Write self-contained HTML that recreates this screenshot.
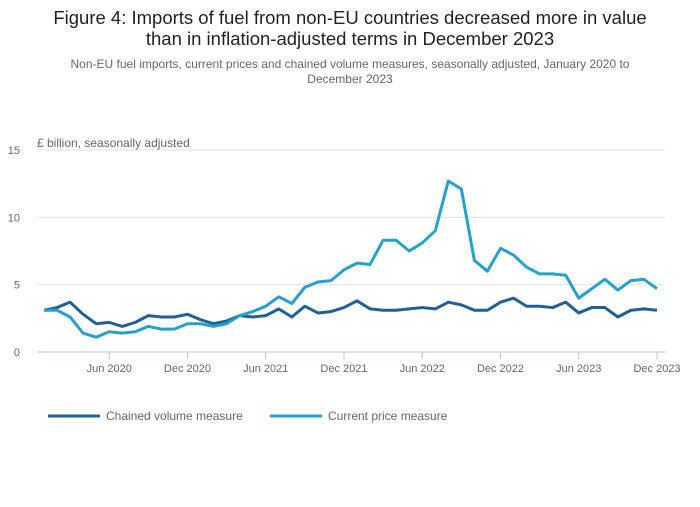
<!DOCTYPE html>
<html><head><meta charset="utf-8"><style>
body{margin:0;background:#fff;font-family:"Liberation Sans",sans-serif;}
svg text{font-family:"Liberation Sans",sans-serif;}
</style></head><body>
<svg width="700" height="502">
<text x="350" y="24" text-anchor="middle" font-size="18.5" fill="#222">Figure 4: Imports of fuel from non-EU countries decreased more in value</text>
<text x="350" y="45" text-anchor="middle" font-size="18.5" fill="#222">than in inflation-adjusted terms in December 2023</text>
<text x="350" y="68" text-anchor="middle" font-size="12" fill="#666">Non-EU fuel imports, current prices and chained volume measures, seasonally adjusted, January 2020 to</text>
<text x="350" y="83" text-anchor="middle" font-size="12" fill="#666">December 2023</text>
<text x="37" y="147" font-size="12" fill="#666">£ billion, seasonally adjusted</text>
<g id="grid"></g><g id="xax"></g><g id="series"></g>
<g>
<line x1="48" y1="416" x2="100" y2="416" stroke="#206095" stroke-width="3"/>
<text x="106" y="420" font-size="12" fill="#666">Chained volume measure</text>
<line x1="270" y1="416" x2="322" y2="416" stroke="#27a0cc" stroke-width="3"/>
<text x="328" y="420" font-size="12" fill="#666">Current price measure</text>
</g>
</svg>
<script>
const yTicks=[0,5,10,15];
const xTickMonths=[5,11,17,23,29,35,41,47];
const xTickLabels=["Jun 2020","Dec 2020","Jun 2021","Dec 2021","Jun 2022","Dec 2022","Jun 2023","Dec 2023"];
const chained=[3.1,3.3,3.7,2.8,2.1,2.2,1.9,2.2,2.7,2.6,2.6,2.8,2.4,2.1,2.3,2.7,2.6,2.7,3.2,2.6,3.4,2.9,3.0,3.3,3.8,3.2,3.1,3.1,3.2,3.3,3.2,3.7,3.5,3.1,3.1,3.7,4.0,3.4,3.4,3.3,3.7,2.9,3.3,3.3,2.6,3.1,3.2,3.1];
const current=[3.1,3.1,2.6,1.4,1.1,1.5,1.4,1.5,1.9,1.7,1.7,2.1,2.1,1.9,2.1,2.7,3.0,3.4,4.1,3.6,4.8,5.2,5.3,6.1,6.6,6.5,8.3,8.3,7.5,8.1,9.0,12.7,12.1,6.8,6.0,7.7,7.2,6.3,5.8,5.8,5.7,4.0,4.7,5.4,4.6,5.3,5.4,4.7];
const NS="http://www.w3.org/2000/svg";
const X=i=>44+i*(657-44)/47;
const Y=v=>352-v*(352-150)/15;
function mk(tag,attrs,parent){const e=document.createElementNS(NS,tag);for(const k in attrs)e.setAttribute(k,attrs[k]);document.getElementById(parent).appendChild(e);return e;}
yTicks.forEach(t=>{
 if(t>0){const l=mk('line',{x1:37,x2:665,y1:Y(t),y2:Y(t),stroke:'#e2e2e3'},'grid');
 
 }
 const tx=mk('text',{x:20,y:Y(t)+4,'text-anchor':'end','font-size':11,fill:'#666'},'grid');tx.textContent=t;
 
 
});
const ax=mk('line',{x1:37,x2:665,y1:352,y2:352,stroke:'#b3c3d9'},'xax');


xTickMonths.forEach((m,i)=>{
 mk('line',{x1:X(m),x2:X(m),y1:352,y2:359,stroke:'#b3c3d9'},'xax');
 const t=mk('text',{x:X(m),y:372,'text-anchor':'middle','font-size':11,fill:'#666'},'xax');t.textContent=xTickLabels[i];
 
 
});
function line(d,c,name){const p=mk('polyline',{points:d.map((v,i)=>X(i)+','+Y(v)).join(' '),fill:'none',stroke:c,'stroke-width':3,'stroke-linejoin':'round'},'series');
 
 }
line(chained,'#206095','line-chained-volume');
line(current,'#27a0cc','line-current-price');
</script>
</body></html>
